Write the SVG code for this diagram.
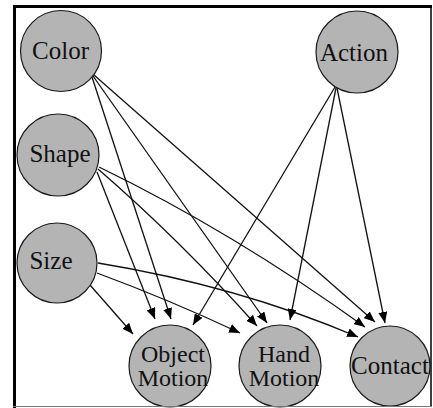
<svg xmlns="http://www.w3.org/2000/svg" width="433" height="408" viewBox="0 0 433 408">
<defs>
<style>
.node circle{fill:#b4b4b4;stroke:#1a1a1a;stroke-width:1.2}
.node text{font-family:"Liberation Serif","Times New Roman",serif;font-size:25px;fill:#111;text-anchor:middle}
.node text.two{font-size:24px}
.edges path{fill:none;stroke:#111;stroke-width:1.3;marker-end:url(#ah)}
</style>
<marker id="ah" markerWidth="11" markerHeight="9" refX="11" refY="4.5" orient="auto" markerUnits="userSpaceOnUse">
<path d="M0,0 L11,4.5 L0,9 z" fill="#000"/>
</marker>
</defs>
<rect x="0" y="0" width="433" height="408" fill="#fff"/>
<g id="edges" class="edges">
<path d="M92,77 L171,319"/>
<path d="M93,76 L267,323"/>
<path d="M94,75 L375,322"/>
<path d="M97,172 L155,319"/>
<path d="M98,169 Q180,240 257,326"/>
<path d="M99,167 Q233,232 365,327"/>
<path d="M90,285 L133,334"/>
<path d="M97,273 Q170,300 240,333"/>
<path d="M98,263 Q238,286 358,337"/>
<path d="M335,87 L193,325"/>
<path d="M336,88 L290,320"/>
<path d="M337,88 L385,323"/>
</g>
<g id="color" class="node"><circle cx="61" cy="51" r="40.5"/><text x="60.5" y="59">Color</text></g>
<g id="action" class="node"><circle cx="357" cy="52" r="41"/><text x="354" y="61">Action</text></g>
<g id="shape" class="node"><circle cx="58" cy="155" r="41"/><text x="60" y="162">Shape</text></g>
<g id="size" class="node"><circle cx="57" cy="263" r="40"/><text x="51" y="269">Size</text></g>
<g id="objectmotion" class="node"><circle cx="170" cy="366" r="41"/><text class="two" x="173" y="362">Object</text><text class="two" x="173" y="386">Motion</text></g>
<g id="handmotion" class="node"><circle cx="280" cy="366" r="41"/><text class="two" x="284" y="362">Hand</text><text class="two" x="284" y="386">Motion</text></g>
<g id="contact" class="node"><circle cx="390" cy="366" r="40"/><text x="390" y="374">Contact</text></g>
<g id="frame">
<line x1="14.5" y1="5" x2="14.5" y2="408" stroke="#000" stroke-width="3"/>
<line x1="13" y1="6.5" x2="432" y2="6.5" stroke="#000" stroke-width="3"/>
<line x1="431" y1="5" x2="431" y2="407" stroke="#000" stroke-width="1.5"/>
<line x1="13" y1="406.5" x2="432" y2="406.5" stroke="#777" stroke-width="1.2"/>
</g>
</svg>
